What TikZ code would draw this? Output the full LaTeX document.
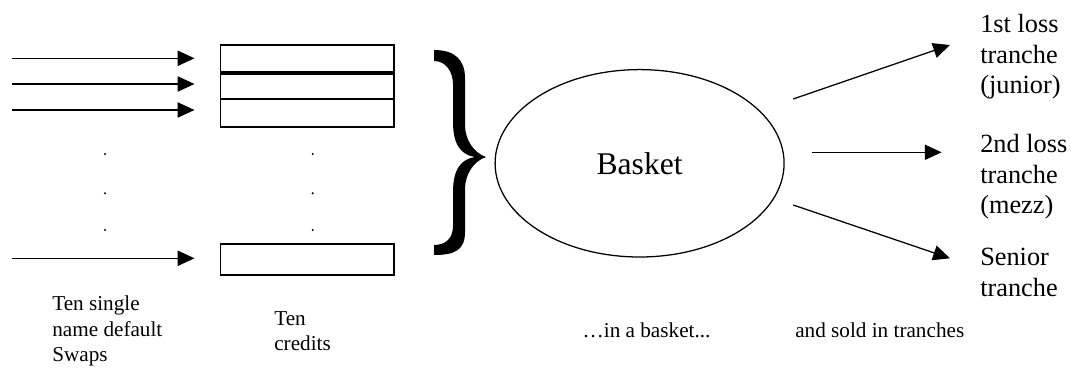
\documentclass[tikz,border=0pt]{standalone}
\usepackage{fontspec}
\setmainfont{Liberation Serif}
\usetikzlibrary{arrows.meta,shapes.geometric}

\begin{document}
\begin{tikzpicture}
        \useasboundingbox (0,0) rectangle (26.775,9.175);

        \begin{scope}[every node/.style={rectangle,draw,line width=0.9pt,inner sep=0pt,minimum width=4.333cm}]
            \node (C1) [minimum height=0.675cm] at (7.684,7.7125) {};
            \node (C2) [minimum height=0.6375cm] at (7.684,7.006) {};
            \node (C3) [minimum height=0.7cm] at (7.684,6.35) {};
            \node (C4) [minimum height=0.775cm] at (7.684,2.6875) {};
        \end{scope}

        \node (B) [ellipse, draw, line width=0.9pt, inner sep=0pt, minimum width=7.225cm, minimum height=4.685cm,
                   font=\fontsize{22.48pt}{27pt}\selectfont] at (15.99,5.0925) {Basket};

        \begin{scope}[every node/.style={align=left,inner sep=0pt,anchor=west,font=\fontsize{18.71pt}{21.55pt}\selectfont}]
            \node (J) at (24.5,7.754) {1st loss\\tranche\\(junior)};
            \node (M) at (24.5,4.755) {2nd loss\\tranche\\(mezz)};
            \node (S) at (24.5,2.366) {Senior\\tranche};
        \end{scope}

        \begin{scope}[every node/.style={align=left,inner sep=0pt,font=\fontsize{15.08pt}{18.14pt}\selectfont}]
            \node (L1) [anchor=west] at (1.3,0.894) {Ten single\\name default\\Swaps};
            \node (L2) [anchor=west] at (6.85,0.891) {Ten\\credits};
            \node (L3) [anchor=base west] at (14.56,0.735) {\dots in a basket...};
            \node (L4) [anchor=base west] at (19.875,0.725) {and sold in tranches};
        \end{scope}

        % the dots
        \fill (2.625,5.325) circle (0.03);
        \fill (2.625,4.3425) circle (0.03);
        \fill (2.625,3.425) circle (0.03);
        \fill (7.8175,5.325) circle (0.03);
        \fill (7.8175,4.3425) circle (0.03);
        \fill (7.8175,3.425) circle (0.03);

        % the brace
        \fill (10.85,7.925) .. controls (11.375,7.925) and (11.625,7.675) .. (11.625,7.225)
              -- (11.625,6.05) .. controls (11.625,5.675) and (11.85,5.35) .. (12.15,5.25)
              .. controls (11.85,5.15) and (11.625,4.825) .. (11.625,4.45)
              -- (11.625,3.375) .. controls (11.625,2.925) and (11.375,2.8) .. (10.85,2.8)
              -- (10.85,3.05) .. controls (11.15,3.05) and (11.325,3.225) .. (11.325,3.525)
              -- (11.325,4.375) .. controls (11.325,4.975) and (11.55,5.2) .. (11.875,5.25)
              .. controls (11.55,5.3) and (11.325,5.525) .. (11.325,6.125)
              -- (11.325,7.075) .. controls (11.325,7.375) and (11.15,7.65) .. (10.85,7.65) -- cycle;

        \coordinate (A1) at (0.31,7.7175);
        \coordinate (A2) at (0.31,7.075);
        \coordinate (A3) at (0.31,6.425);
        \coordinate (A4) at (0.31,2.7175);
        \coordinate (J0) at (19.83,6.70);
        \coordinate (J1) at (23.75,8.05);
        \coordinate (M0) at (20.29,5.3675);
        \coordinate (M1) at (23.54,5.3675);
        \coordinate (S0) at (19.83,4.05);
        \coordinate (S1) at (23.75,2.7175);

        \begin{scope}[every edge/.style={draw=black,line width=0.9pt}]
            \path [-{Triangle[length=0.42cm,width=0.38cm]}] (A1) edge[shorten >=0.64cm] (A1 -| C1.west);
            \path [-{Triangle[length=0.42cm,width=0.38cm]}] (A2) edge[shorten >=0.64cm] (A2 -| C2.west);
            \path [-{Triangle[length=0.42cm,width=0.38cm]}] (A3) edge[shorten >=0.64cm] (A3 -| C3.west);
            \path [-{Triangle[length=0.42cm,width=0.38cm]}] (A4) edge[shorten >=0.64cm] (A4 -| C4.west);
            \path [-{Triangle[length=0.42cm,width=0.38cm]}] (J0) edge (J1);
            \path [-{Triangle[length=0.42cm,width=0.38cm]}] (M0) edge (M1);
            \path [-{Triangle[length=0.42cm,width=0.38cm]}] (S0) edge (S1);
        \end{scope}
    \end{tikzpicture}
\end{document}
